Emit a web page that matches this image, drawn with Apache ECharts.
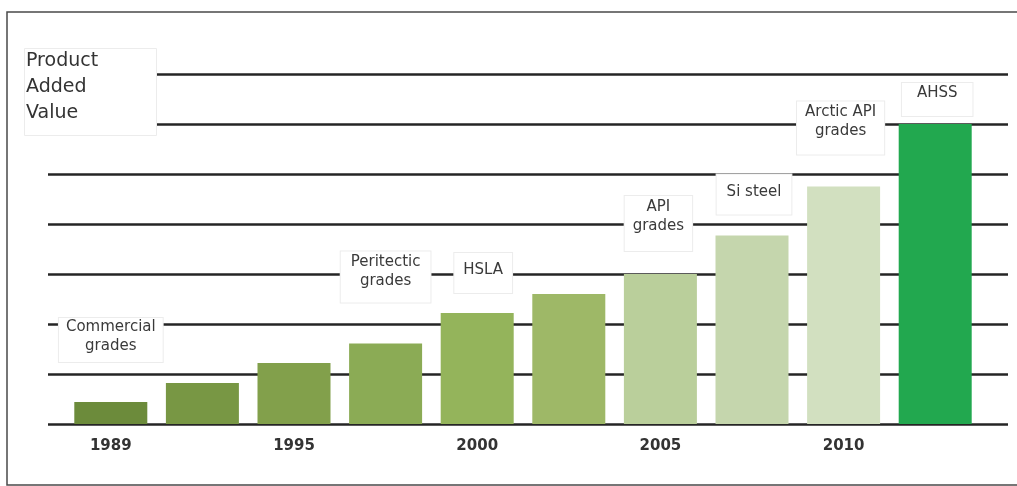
<!DOCTYPE html>
<html>
<head>
<meta charset="utf-8">
<title>Product Added Value</title>
<script src="https://cdn.jsdelivr.net/npm/echarts@6/dist/echarts.min.js"></script>
<style>
  html, body { margin: 0; padding: 0; background: #fff; }
  #chart { width: 1017px; height: 486px; }
</style>
</head>
<body>
<div id="chart"></div>
<script>
// Year ticks along the bottom (only every other bar is labelled)
const yearLabels = ['1989', '', '1995', '', '2000', '', '2005', '', '2010', ''];
// Relative product added value, one bar per step
const addedValue = [0.44, 0.82, 1.22, 1.61, 2.22, 2.6, 3.0, 3.77, 4.75, 6.0];
// Steel grade introduced at each step
const gradeLabels = ['Commercial\ngrades', '', '', 'Peritectic\ngrades', 'HSLA', '', 'API\ngrades', 'Si steel', 'Arctic API\ngrades', 'AHSS'];

// Bar fills: olive greens fading to pale, then a bright green for AHSS
const barColors = ['#6c8b3b', '#789744', '#82a04b', '#8bab55', '#94b45b', '#9eb867', '#bacf9b', '#c5d6ad', '#d2e0c0', '#22a84f'];
// Callout box geometry: gap above bar, padding [t, r, b, l], horizontal nudge
const calloutStyle = [
  { dist: 40, pad: [0, 7, 6, 7], dx: 0 },
  null, null,
  { dist: 41, pad: [1, 10, 12, 10], dx: 0 },
  { dist: 20, pad: [8, 9, 13, 9], dx: 6 },
  null,
  { dist: 23, pad: [2, 8, 15, 8], dx: -2 },
  { dist: 21, pad: [8, 10, 13, 10], dx: 2 },
  { dist: 32, pad: [1, 8, 14, 8], dx: -3 },
  { dist: 8, pad: [1, 15, 13, 15], dx: 2 }
];

const FONT = 'DejaVu Sans';

const barData = addedValue.map((v, i) => {
  const item = { value: v, itemStyle: { color: barColors[i] } };
  const st = calloutStyle[i];
  if (gradeLabels[i] && st) {
    item.label = {
      show: true,
      position: 'top',
      distance: st.dist,
      offset: [st.dx, 0],
      formatter: gradeLabels[i],
      fontFamily: FONT,
      fontSize: 15,
      lineHeight: 19,
      color: '#3a3a3a',
      align: 'center',
      backgroundColor: '#ffffff',
      borderColor: '#ececec',
      borderWidth: 1,
      padding: st.pad
    };
  }
  return item;
});

const chart = echarts.init(document.getElementById('chart'), null, { renderer: 'canvas' });

chart.setOption({
  backgroundColor: '#ffffff',
  animation: false,
  title: {
    text: 'Product\nAdded\nValue',
    left: 24,
    top: 48,
    padding: [0, 59, 10, 2],
    backgroundColor: '#ffffff',
    borderColor: '#ececec',
    borderWidth: 1,
    textStyle: {
      fontFamily: FONT,
      fontSize: 19,
      fontWeight: 'normal',
      lineHeight: 26,
      color: '#333333'
    }
  },
  graphic: [{
    type: 'rect',
    silent: true,
    z: 100,
    shape: { x: 7, y: 12, width: 1040, height: 473 },
    style: { fill: 'none', stroke: '#4a4a4a', lineWidth: 1.5 }
  }],
  grid: [
    // wide grid carrying the horizontal rules
    { left: 48, right: 9, top: 74, bottom: 62 },
    // narrower grid holding the bars
    { left: 65, right: 36, top: 74, bottom: 62 }
  ],
  xAxis: [
    { gridIndex: 0, type: 'value', min: 0, max: 1, show: false },
    {
      gridIndex: 1,
      type: 'category',
      data: yearLabels,
      axisLine: { show: false },
      axisTick: { show: false },
      axisLabel: {
        interval: 0,
        margin: 15,
        fontFamily: FONT,
        fontSize: 15,
        fontWeight: 'bold',
        color: '#333333'
      }
    }
  ],
  yAxis: [
    {
      gridIndex: 0,
      type: 'value',
      min: 0,
      max: 7,
      interval: 1,
      axisLine: { show: false },
      axisTick: { show: false },
      axisLabel: { show: false },
      splitLine: { show: true, lineStyle: { color: '#252525', width: 2.5 } }
    },
    {
      gridIndex: 1,
      type: 'value',
      min: 0,
      max: 7,
      interval: 1,
      show: false,
      splitLine: { show: false }
    }
  ],
  series: [{
    type: 'bar',
    xAxisIndex: 1,
    yAxisIndex: 1,
    barWidth: 73,
    data: barData,
    label: { show: false }
  }]
});
</script>
</body>
</html>
